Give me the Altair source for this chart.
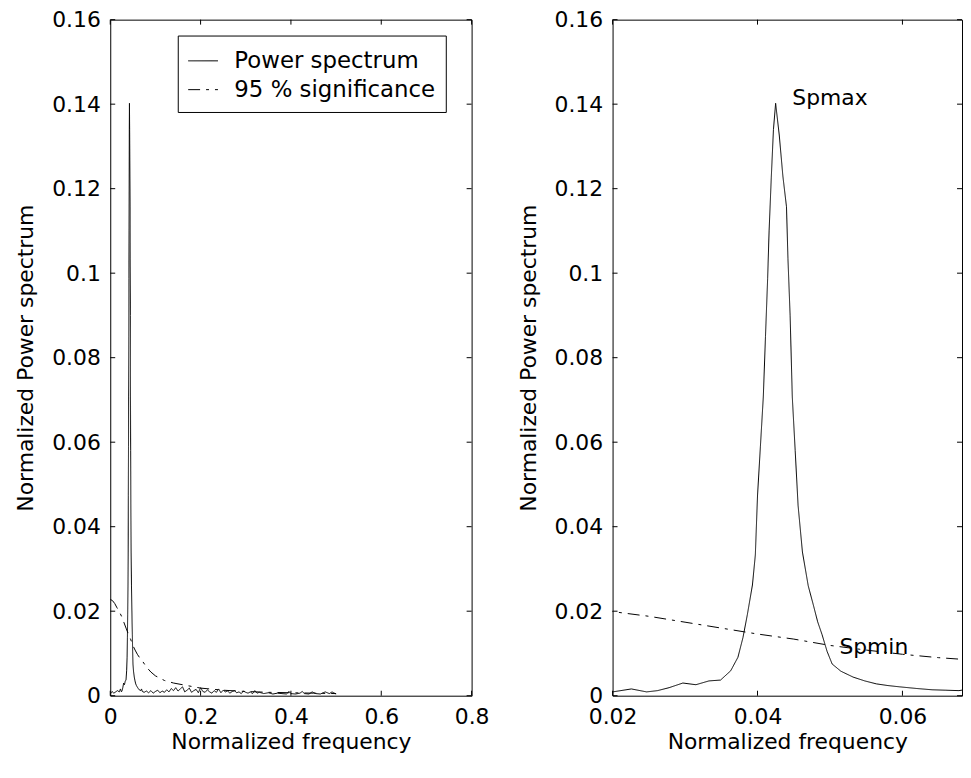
import altair as alt
import pandas as pd

# ---- data ----
spec_freq = [0.000, 0.004, 0.008, 0.012, 0.016, 0.020, 0.0226, 0.0247, 0.0262, 0.0278,
             0.0297, 0.0315, 0.0333, 0.0349, 0.0363, 0.0373, 0.0380, 0.0386, 0.0393, 0.0397,
             0.0400, 0.0404, 0.0408, 0.0411, 0.0414, 0.0416, 0.0419, 0.0422, 0.0425, 0.0430,
             0.0435, 0.0440, 0.0442, 0.0445, 0.0448, 0.0452, 0.0456, 0.0462, 0.0470, 0.0477,
             0.0483, 0.0489, 0.0496, 0.0503, 0.0515, 0.0532, 0.0548, 0.0564, 0.0580, 0.0596,
             0.0620, 0.0641, 0.0660, 0.0678, 0.0692, 0.0710,
             0.075, 0.080, 0.085, 0.090, 0.095, 0.100, 0.105, 0.110, 0.115, 0.120,
             0.125, 0.130, 0.135, 0.140, 0.145, 0.150, 0.155, 0.160, 0.165, 0.170,
             0.175, 0.180, 0.185, 0.190, 0.195, 0.200, 0.205, 0.210, 0.215, 0.220,
             0.225, 0.230, 0.235, 0.240, 0.245, 0.250, 0.255, 0.260, 0.265, 0.270,
             0.275, 0.280, 0.285, 0.290, 0.295, 0.300, 0.305, 0.310, 0.315, 0.320,
             0.325, 0.330, 0.340, 0.350, 0.360, 0.370, 0.380, 0.390, 0.396, 0.400,
             0.410, 0.420, 0.425, 0.430, 0.440, 0.447, 0.455, 0.465, 0.476, 0.485,
             0.491, 0.500]
spec_power = [0.0004, 0.0010, 0.0006, 0.0009, 0.0012, 0.0009, 0.0016, 0.0009, 0.0012, 0.0019,
              0.0030, 0.0026, 0.0035, 0.0037, 0.0059, 0.0091, 0.0138, 0.0192, 0.0262, 0.0333,
              0.0473, 0.0590, 0.0707, 0.0850, 0.0988, 0.1100, 0.1226, 0.1340, 0.1402, 0.1327,
              0.1230, 0.1157, 0.1035, 0.0900, 0.0707, 0.0580, 0.0450, 0.0340, 0.0260, 0.0215,
              0.0175, 0.0145, 0.0105, 0.0075, 0.0058, 0.0044, 0.0035, 0.0028, 0.0024, 0.0021,
              0.0017, 0.0014, 0.0013, 0.0012, 0.0016, 0.0010,
              0.0008, 0.0011, 0.0007, 0.0012, 0.0006, 0.0010, 0.0013, 0.0007, 0.0011, 0.0008,
              0.0014, 0.0009, 0.0017, 0.0012, 0.0019, 0.0011, 0.0016, 0.0021, 0.0009, 0.0013,
              0.0018, 0.0008, 0.0012, 0.0015, 0.0007, 0.0019, 0.0010, 0.0008, 0.0014, 0.0009,
              0.0006, 0.0012, 0.0008, 0.0016, 0.0007, 0.0013, 0.0009, 0.0011, 0.0006, 0.0010,
              0.0012, 0.0007, 0.0009, 0.0005, 0.0011, 0.0008, 0.0006, 0.0009, 0.0005, 0.0012,
              0.0006, 0.0008, 0.0005, 0.0007, 0.0004, 0.0006, 0.0005, 0.0004, 0.0010, 0.0005,
              0.0004, 0.0006, 0.0010, 0.0005, 0.0004, 0.0009, 0.0005, 0.0004, 0.0009, 0.0005,
              0.0009, 0.0004]

sig_freq = [0.000, 0.005, 0.010, 0.015, 0.020, 0.025, 0.030, 0.035, 0.040, 0.045,
            0.050, 0.055, 0.060, 0.065, 0.070, 0.080, 0.090, 0.100, 0.120, 0.140,
            0.160, 0.180, 0.200, 0.250, 0.300, 0.350, 0.400, 0.450, 0.500]
sig_power = [0.0228, 0.0225, 0.0218, 0.0208, 0.0199, 0.0188, 0.0174, 0.0160, 0.0146, 0.0134,
             0.0119, 0.0108, 0.0098, 0.0090, 0.0084, 0.0068, 0.0056, 0.0047, 0.0036, 0.0030,
             0.0026, 0.0022, 0.0018, 0.0013, 0.0010, 0.0008, 0.0007, 0.0006, 0.0005]

series_names = ["Power spectrum", "95 % significance"]

y_ticks = [0, 0.02, 0.04, 0.06, 0.08, 0.10, 0.12, 0.14, 0.16]
x_ticks_left = [0, 0.2, 0.4, 0.6, 0.8]
x_ticks_right = [0.02, 0.04, 0.06]

ann_text = ["Spmax", "Spmin"]
ann_freq = [0.0448, 0.0513]
ann_power = [0.1415, 0.0115]

# ---- tables ----
lines = pd.concat([
    pd.DataFrame({"f": spec_freq, "p": spec_power, "series": series_names[0], "o": range(len(spec_freq))}),
    pd.DataFrame({"f": sig_freq, "p": sig_power, "series": series_names[1], "o": range(len(sig_freq))}),
])
yt = pd.DataFrame({"v": y_ticks})
ann = pd.DataFrame({"t": ann_text, "f": ann_freq, "p": ann_power})

FONT = "DejaVu Sans"
H = 681
WL = 364
WR = 352
TK = 5
ydom = [0, 0.16]
xdom_l = [0, 0.8]
xdom_r = [0.02, 0.02 + WR / 146 * 0.02]


def panel(xdom, xticks, W, xfmt, legend):
    xs = alt.Scale(domain=xdom, nice=False, zero=False)
    ys = alt.Scale(domain=ydom, nice=False)
    xt = pd.DataFrame({"v": xticks})
    dash = alt.StrokeDash(
        "series:N",
        scale=alt.Scale(domain=series_names, range=[[1, 0], [12, 6, 3, 6]]),
        legend=legend,
    )
    base_line = alt.Chart(lines).mark_line(color="black", strokeWidth=1, clip=True).encode(
        x=alt.X("f:Q", scale=xs, title="Normalized frequency",
                axis=alt.Axis(values=xticks, format=xfmt, grid=False, domain=False,
                              ticks=False, tickSize=0, labelPadding=11, titlePadding=21,
                              titleBaseline="alphabetic", labelFlush=False)),
        y=alt.Y("p:Q", scale=ys, title="Normalized Power spectrum",
                axis=alt.Axis(values=y_ticks, format=".2~f", grid=False, domain=False,
                              ticks=False, tickSize=0, labelPadding=10, titlePadding=14,
                              labelFlush=False)),
        strokeDash=dash,
        order="o:Q",
        detail="series:N",
    )
    ty_l = alt.Chart(yt).mark_rule(color="black", strokeWidth=1).encode(
        y=alt.Y("v:Q", scale=ys), x=alt.value(0), x2=alt.value(TK))
    ty_r = alt.Chart(yt).mark_rule(color="black", strokeWidth=1).encode(
        y=alt.Y("v:Q", scale=ys), x=alt.value(W - TK), x2=alt.value(W))
    tx_b = alt.Chart(xt).mark_rule(color="black", strokeWidth=1).encode(
        x=alt.X("v:Q", scale=xs), y=alt.value(H), y2=alt.value(H - TK))
    tx_t = alt.Chart(xt).mark_rule(color="black", strokeWidth=1).encode(
        x=alt.X("v:Q", scale=xs), y=alt.value(0), y2=alt.value(TK))
    return [base_line, ty_l, ty_r, tx_b, tx_t], xs, ys


legend = alt.Legend(
    title=None, orient="none", legendX=68, legendY=16,
    strokeColor="black", fillColor="white", padding=10,
    labelFont=FONT, labelFontSize=23, labelColor="black", labelLimit=0,
    symbolType="stroke", symbolSize=900, symbolStrokeWidth=1,
    symbolStrokeColor="black", labelOffset=16, rowPadding=1, cornerRadius=0,
)

left_layers, _, _ = panel(xdom_l, x_ticks_left, WL, ".1~f", legend)
right_layers, xs_r, ys_r = panel(xdom_r, x_ticks_right, WR, ".2~f", None)

labels = alt.Chart(ann).mark_text(align="left", baseline="middle", font=FONT,
                                  fontSize=22, color="black").encode(
    x=alt.X("f:Q", scale=xs_r), y=alt.Y("p:Q", scale=ys_r), text="t:N")

left = alt.layer(*left_layers).properties(width=WL, height=H)
right = alt.layer(*right_layers, labels).properties(width=WR, height=H)

chart = alt.hconcat(left, right, spacing=27).resolve_scale(
    strokeDash="independent", x="independent"
).properties(
    padding={"left": 6, "top": -3, "right": 0, "bottom": 1},
    background="white",
).configure_view(
    stroke="black", strokeWidth=1
).configure_axis(
    labelFont=FONT, labelFontSize=22, labelColor="black",
    titleFont=FONT, titleFontSize=22, titleFontWeight="normal", titleColor="black",
)

chart.save("out.html", embed_options={"renderer": "svg", "actions": False})
